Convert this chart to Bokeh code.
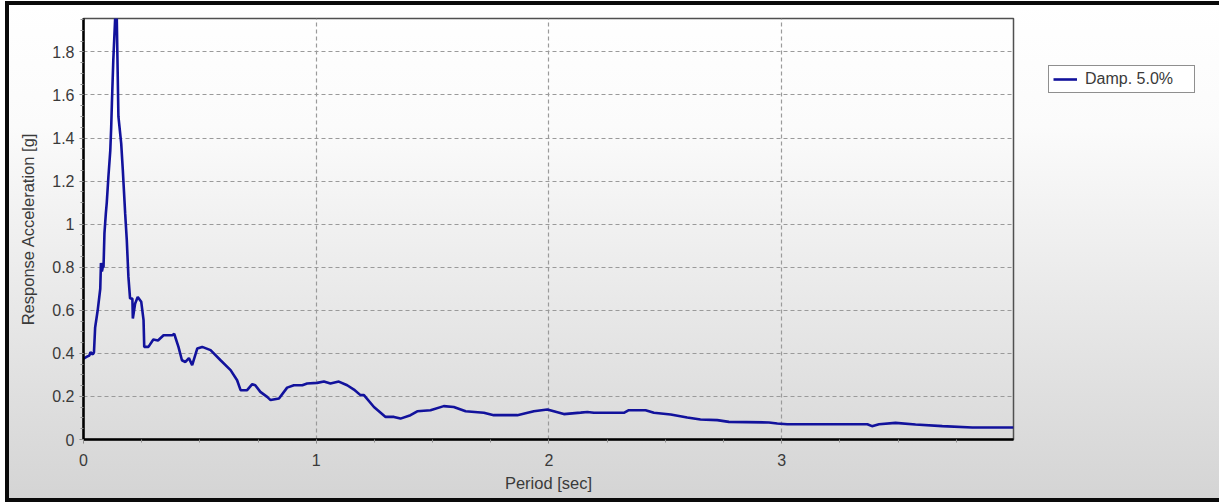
import numpy as np
from bokeh.plotting import figure
from bokeh.models import (Range1d, FixedTicker, CustomJSTickFormatter, Legend, LegendItem)
from bokeh.embed import file_html
from bokeh.resources import INLINE

# ---- data ----
period = [0.0, 0.015, 0.025, 0.030, 0.040, 0.045, 0.050, 0.061, 0.072, 0.075,
          0.079, 0.083, 0.086, 0.090, 0.096, 0.100, 0.107, 0.115, 0.119, 0.122,
          0.128, 0.136, 0.140, 0.143, 0.150, 0.162, 0.169, 0.179, 0.186, 0.193,
          0.200, 0.210, 0.212, 0.222, 0.233, 0.248, 0.258, 0.261, 0.279, 0.300,
          0.320, 0.344, 0.380, 0.390, 0.408, 0.423, 0.438, 0.453, 0.467, 0.489,
          0.510, 0.546, 0.589, 0.632, 0.660, 0.675, 0.703, 0.725, 0.738, 0.760,
          0.789, 0.804, 0.840, 0.875, 0.904, 0.940, 0.961, 1.004, 1.033, 1.061,
          1.097, 1.133, 1.162, 1.190, 1.205, 1.248, 1.298, 1.334, 1.362, 1.405,
          1.434, 1.491, 1.548, 1.591, 1.642, 1.720, 1.763, 1.864, 1.935, 1.993,
          2.064, 2.136, 2.165, 2.193, 2.322, 2.343, 2.415, 2.451, 2.523, 2.594,
          2.651, 2.723, 2.773, 2.945, 2.981, 3.024, 3.368, 3.388, 3.418, 3.489,
          3.575, 3.690, 3.819, 3.996]
accel = [0.375, 0.385, 0.390, 0.405, 0.395, 0.405, 0.520, 0.600, 0.700, 0.820,
         0.780, 0.800, 0.800, 0.957, 1.050, 1.100, 1.220, 1.340, 1.450, 1.560,
         1.760, 1.955, 2.030, 1.955, 1.500, 1.375, 1.250, 1.050, 0.926, 0.755,
         0.655, 0.655, 0.562, 0.632, 0.662, 0.640, 0.554, 0.430, 0.430, 0.464,
         0.460, 0.484, 0.484, 0.490, 0.430, 0.368, 0.360, 0.378, 0.345, 0.423,
         0.430, 0.415, 0.368, 0.322, 0.275, 0.229, 0.229, 0.257, 0.252, 0.221,
         0.198, 0.183, 0.190, 0.241, 0.252, 0.252, 0.260, 0.263, 0.269, 0.260,
         0.269, 0.252, 0.232, 0.206, 0.206, 0.151, 0.105, 0.105, 0.097, 0.113,
         0.131, 0.136, 0.155, 0.151, 0.131, 0.124, 0.113, 0.113, 0.131, 0.139,
         0.118, 0.125, 0.128, 0.124, 0.124, 0.136, 0.136, 0.124, 0.116, 0.102,
         0.093, 0.090, 0.082, 0.079, 0.074, 0.071, 0.071, 0.062, 0.071, 0.077,
         0.070, 0.062, 0.056, 0.056]
x_ticks = [0, 1, 2, 3]
y_ticks = [0, 0.2, 0.4, 0.6, 0.8, 1.0, 1.2, 1.4, 1.6, 1.8]
series_label = "Damp. 5.0%"

FONT = "Liberation Sans"

p = figure(frame_width=930, frame_height=421, output_backend="svg", toolbar_location=None,
           x_range=Range1d(0, 3.996), y_range=Range1d(0, 1.955),
           min_border_left=78, min_border_right=205, min_border_top=17,
           min_border_bottom=63)

p.background_fill_alpha = 0
p.border_fill_alpha = 0
p.outline_line_color = "#505050"
p.outline_line_width = 1.5
p.styles = {
    "margin-left": "5px",
    "margin-top": "1px",
    "background": "linear-gradient(to bottom, #ffffff 0%, #fbfbfb 25%, #e6e6e6 65%, #d4d4d4 100%)",
    "outline": "4px solid #0a0a0a",
    "outline-offset": "-4px",
}

r = p.line(period, accel, line_color="#12129c", line_width=2.6)

# axes
p.xaxis.ticker = FixedTicker(ticks=x_ticks, minor_ticks=list(np.arange(0, 4.0, 0.25)))
p.yaxis.ticker = FixedTicker(ticks=y_ticks, minor_ticks=list(np.round(np.arange(0, 1.96, 0.05), 2)))
fmt = CustomJSTickFormatter(code="return String(Math.round(tick*100)/100);")
p.xaxis.formatter = fmt
p.yaxis.formatter = fmt

for ax in (p.xaxis, p.yaxis):
    ax.axis_line_color = "black"
    ax.axis_line_width = 2.5
    ax.major_tick_line_color = "#808080"
    ax.minor_tick_line_color = "#909090"
    ax.major_tick_in = 0
    ax.major_tick_out = 4
    ax.minor_tick_in = 0
    ax.minor_tick_out = 3
    ax.major_label_text_font = FONT
    ax.major_label_text_font_size = "16px"
    ax.major_label_text_color = "#3a3a3a"
    ax.axis_label_text_font = FONT
    ax.axis_label_text_font_size = "16.5px"
    ax.axis_label_text_font_style = "normal"
    ax.axis_label_text_color = "#3a3a3a"

p.xaxis.axis_label = "Period [sec]"
p.yaxis.axis_label = "Response Acceleration [g]"
p.xaxis.major_label_standoff = 10
p.xaxis.axis_label_standoff = 5
p.yaxis.major_label_standoff = 5
p.yaxis.axis_label_standoff = 12

for g in (p.xgrid, p.ygrid):
    g.grid_line_color = "#9a9a9a"
    g.grid_line_dash = "4 3"
    g.grid_line_width = 1.2

legend = Legend(items=[LegendItem(label=series_label, renderers=[r])],
                location=(35, 346))
legend.border_line_color = "#202020"
legend.border_line_width = 1.2
legend.background_fill_color = "white"
legend.background_fill_alpha = 1
legend.padding = 4
legend.margin = 0
legend.spacing = 0
legend.glyph_width = 24
legend.glyph_height = 18
legend.label_standoff = 8
legend.label_width = 105
legend.label_height = 18
legend.label_text_font = FONT
legend.label_text_font_size = "16px"
legend.label_text_color = "#3a3a3a"
p.add_layout(legend, "right")

open("out.html", "w").write(file_html(p, INLINE))
